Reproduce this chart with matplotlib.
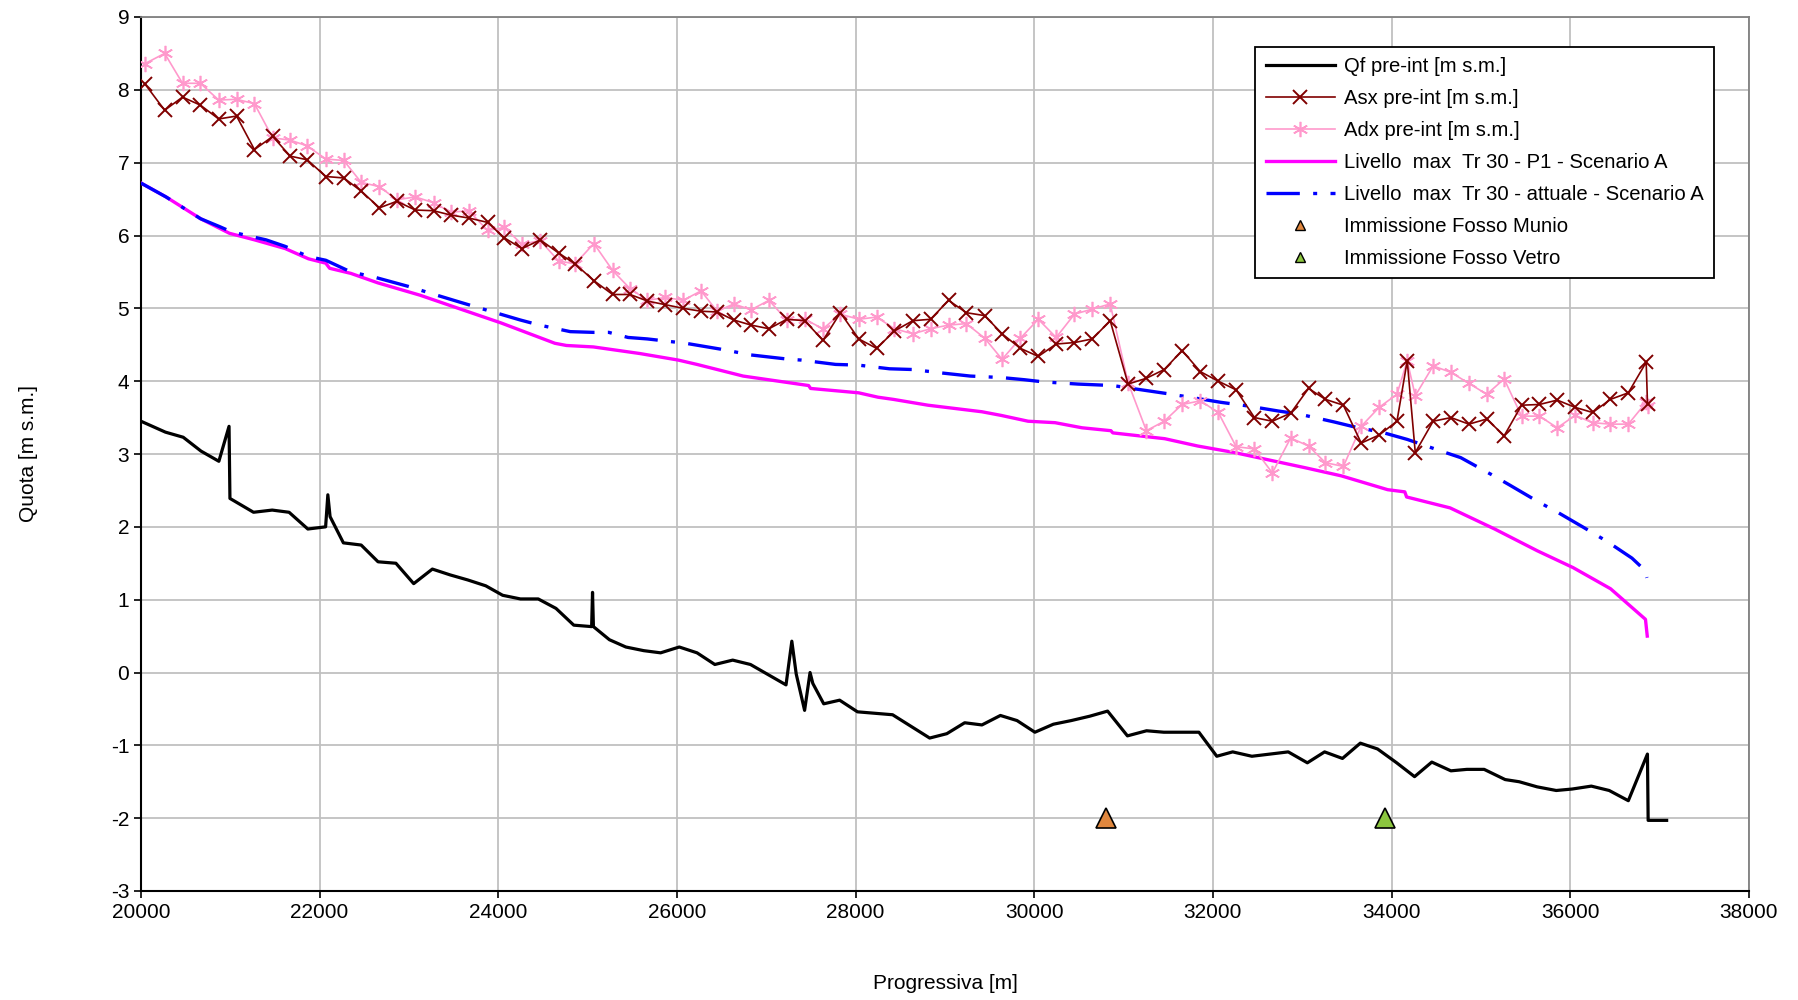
#!/usr/bin/env python3
# -*- coding: utf-8 -*-

"""
Profilo longitudinale: quote fondo, argini e livelli max Tr 30
"""

import matplotlib as mpl
mpl.use('Agg')
import matplotlib.pyplot as plt
from matplotlib.lines import Line2D

font_size = 15
font_name = 'Liberation Sans'
mpl.rc('font', family=font_name)
mpl.rc('axes', unicode_minus=False)

# Qf pre-int (fondo alveo)
qf_x = [20000, 20274, 20473, 20672, 20872, 20986, 20996, 21260, 21469, 21658,
        21868, 22067, 22092, 22117, 22266, 22465, 22654, 22854, 23053, 23262,
        23461, 23660, 23860, 24049, 24248, 24447, 24646, 24845, 25045, 25055,
        25065, 25244, 25428, 25628, 25817, 26026, 26225, 26424, 26624, 26823,
        27022, 27221, 27286, 27335, 27429, 27490, 27521, 27643, 27821, 28021,
        28414, 28829, 29021, 29221, 29414, 29621, 29807, 30007, 30214, 30414,
        30621, 30821, 31043, 31257, 31450, 31843, 32043, 32221, 32436, 32843,
        33057, 33250, 33450, 33650, 33843, 34057, 34257, 34450, 34664, 34843,
        35036, 35271, 35429, 35629, 35843, 36021, 36236, 36436, 36650, 36864,
        36872, 37079]
qf_y = [3.45, 3.30, 3.23, 3.04, 2.90, 3.38, 2.39, 2.20, 2.23, 2.20,
        1.97, 2.00, 2.44, 2.14, 1.78, 1.75, 1.52, 1.50, 1.22, 1.42,
        1.34, 1.27, 1.19, 1.06, 1.01, 1.01, 0.88, 0.65, 0.63, 1.10,
        0.63, 0.45, 0.35, 0.30, 0.27, 0.35, 0.27, 0.11, 0.17, 0.11,
        -0.03, -0.17, 0.43, -0.02, -0.52, 0.00, -0.15, -0.43, -0.38, -0.54,
        -0.58, -0.90, -0.84, -0.69, -0.72, -0.59, -0.66, -0.82, -0.71, -0.66,
        -0.60, -0.53, -0.87, -0.80, -0.82, -0.82, -1.15, -1.09, -1.15, -1.09,
        -1.24, -1.09, -1.18, -0.97, -1.05, -1.24, -1.43, -1.23, -1.35, -1.33,
        -1.33, -1.47, -1.50, -1.57, -1.62, -1.60, -1.56, -1.62, -1.76, -1.12,
        -2.03, -2.03]

# sezioni argini
sez_x = [20045, 20265, 20465, 20665, 20870, 21070, 21270, 21475, 21670, 21860,
         22070, 22270, 22465, 22670, 22865, 23070, 23275, 23470, 23670, 23880,
         24065, 24265, 24470, 24675, 24860, 25070, 25280, 25475, 25670, 25870,
         26070, 26270, 26450, 26635, 26830, 27030, 27230, 27430, 27635, 27830,
         28035, 28235, 28435, 28640, 28840, 29040, 29240, 29445, 29640, 29845,
         30045, 30245, 30450, 30650, 30850, 31050, 31255, 31455, 31655, 31860,
         32060, 32260, 32465, 32665, 32870, 33070, 33260, 33460, 33660, 33860,
         34060, 34175, 34265, 34465, 34665, 34865, 35065, 35260, 35455, 35655,
         35855, 36055, 36250, 36450, 36650, 36850, 36865]
asx_y = [8.08, 7.72, 7.90, 7.79, 7.60, 7.64, 7.18, 7.36, 7.09, 7.04,
         6.81, 6.79, 6.61, 6.38, 6.47, 6.35, 6.34, 6.28, 6.24, 6.18,
         5.97, 5.82, 5.94, 5.76, 5.61, 5.38, 5.19, 5.19, 5.10, 5.05,
         5.00, 4.96, 4.95, 4.84, 4.77, 4.72, 4.85, 4.83, 4.56, 4.94,
         4.58, 4.45, 4.69, 4.83, 4.85, 5.11, 4.94, 4.90, 4.65, 4.45,
         4.34, 4.51, 4.53, 4.58, 4.83, 3.96, 4.04, 4.16, 4.42, 4.13,
         4.00, 3.88, 3.50, 3.45, 3.56, 3.90, 3.75, 3.67, 3.15, 3.26,
         3.45, 4.28, 3.02, 3.45, 3.50, 3.41, 3.48, 3.25, 3.67, 3.68,
         3.74, 3.64, 3.57, 3.75, 3.84, 4.26, 3.68]
adx_y = [8.36, 8.50, 8.09, 8.09, 7.86, 7.87, 7.81, 7.34, 7.31, 7.23,
         7.05, 7.03, 6.73, 6.67, 6.49, 6.53, 6.45, 6.32, 6.34, 6.07,
         6.11, 5.88, 5.93, 5.65, 5.61, 5.89, 5.52, 5.27, 5.11, 5.15,
         5.11, 5.24, 4.96, 5.06, 4.98, 5.11, 4.84, 4.85, 4.72, 4.92,
         4.85, 4.88, 4.72, 4.65, 4.72, 4.77, 4.79, 4.59, 4.30, 4.59,
         4.85, 4.60, 4.92, 4.99, 5.06, 3.98, 3.32, 3.45, 3.68, 3.73,
         3.57, 3.10, 3.07, 2.74, 3.22, 3.11, 2.88, 2.83, 3.38, 3.64,
         3.82, 4.28, 3.80, 4.21, 4.12, 3.97, 3.82, 4.03, 3.52, 3.52,
         3.36, 3.53, 3.43, 3.41, 3.41, 3.71, 3.66]

# Livello max Tr 30 - P1 - Scenario A
p1_x = [20000, 20280, 20668, 20991, 21272, 21616, 21875, 22069, 22112, 22349,
        22651, 23125, 23600, 24030, 24332, 24634, 24763, 25065, 25237, 25582,
        26013, 26224, 26741, 27474, 27496, 28034, 28250, 28422, 28810, 29414,
        29629, 29931, 30233, 30534, 30858, 30879, 31461, 31828, 32240, 33038,
        33437, 33956, 34148, 34168, 34655, 35154, 35633, 36032, 36451, 36842,
        36862]
p1_y = [6.72, 6.53, 6.23, 6.03, 5.94, 5.82, 5.68, 5.62, 5.55, 5.48,
        5.35, 5.18, 4.98, 4.80, 4.66, 4.52, 4.49, 4.47, 4.44, 4.38,
        4.29, 4.23, 4.07, 3.94, 3.90, 3.84, 3.78, 3.75, 3.67, 3.58,
        3.53, 3.45, 3.43, 3.36, 3.32, 3.29, 3.21, 3.11, 3.02, 2.81,
        2.70, 2.51, 2.48, 2.41, 2.26, 1.97, 1.67, 1.44, 1.15, 0.73,
        0.50]

# Livello max Tr 30 - attuale - Scenario A
att_x = [20000, 20280, 20668, 20884, 21013, 21185, 21401, 21616, 21875, 22069,
         22349, 22608, 22996, 23233, 23556, 23858, 24246, 24461, 24806, 25065,
         25237, 25453, 25668, 26099, 26487, 26828, 27259, 27388, 27776, 28034,
         28379, 28638, 28983, 29284, 29629, 29888, 30103, 30491, 30879, 31095,
         31483, 31741, 32086, 32388, 32733, 32958, 33357, 33557, 33916, 34176,
         34555, 34774, 35114, 35313, 35633, 35872, 36152, 36411, 36691, 36830,
         36858]
att_y = [6.72, 6.53, 6.23, 6.12, 6.05, 6.00, 5.94, 5.85, 5.71, 5.66,
         5.50, 5.43, 5.30, 5.21, 5.09, 4.98, 4.84, 4.77, 4.68, 4.67,
         4.67, 4.60, 4.58, 4.52, 4.44, 4.36, 4.30, 4.29, 4.23, 4.22,
         4.17, 4.16, 4.11, 4.07, 4.05, 4.02, 3.99, 3.96, 3.94, 3.90,
         3.83, 3.78, 3.71, 3.66, 3.59, 3.55, 3.44, 3.38, 3.29, 3.20,
         3.04, 2.95, 2.72, 2.58, 2.35, 2.19, 1.99, 1.80, 1.57, 1.41,
         1.30]

# immissioni
munio_x, munio_y = [30800], [-2.0]
vetro_x, vetro_y = [33930], [-2.0]

labels = ['Qf pre-int [m s.m.]', 'Asx pre-int [m s.m.]',
          'Adx pre-int [m s.m.]',
          'Livello  max  Tr 30 - P1 - Scenario A',
          'Livello  max  Tr 30 - attuale - Scenario A',
          'Immissione Fosso Munio', 'Immissione Fosso Vetro']

fig = plt.figure(figsize=(17.98, 10.0), dpi=100)
ax = fig.add_axes([0.0784, 0.109, 0.8943, 0.874])

asterisk = (6, 2, 0)
c_munio = '#E0873E'
c_vetro = '#8CC63F'

ax.plot(qf_x, qf_y, color='black', lw=2.3, zorder=3)
ax.plot(sez_x, asx_y, color='#800000', lw=1.2, marker='x', ms=10,
        mew=1.4, zorder=4)
ax.plot(sez_x, adx_y, color='#FF99CC', lw=1.2, marker=asterisk, ms=11,
        mew=1.2, zorder=3.5)
ax.plot(p1_x, p1_y, color='#FF00FF', lw=2.4, zorder=3)
ax.plot(att_x, att_y, color='#0000FF', lw=2.4, dashes=(10, 4, 1.2, 4),
        zorder=3.2)
ax.plot(munio_x, munio_y, ls='none', marker='^', ms=15, mfc=c_munio,
        mec='black', mew=1.2, zorder=5)
ax.plot(vetro_x, vetro_y, ls='none', marker='^', ms=15, mfc=c_vetro,
        mec='black', mew=1.2, zorder=5)

ax.set_xlim(20000, 38000)
ax.set_ylim(-3, 9)
ax.set_xticks(range(20000, 38001, 2000))
ax.set_yticks(range(-3, 10))
ax.tick_params(labelsize=font_size, length=5, width=1.2, direction='out')
ax.grid(color='#C0C0C0', lw=1.3)
ax.set_axisbelow(True)

for side in ('top', 'right'):
    ax.spines[side].set_color('#808080')
    ax.spines[side].set_linewidth(1.3)
for side in ('left', 'bottom'):
    ax.spines[side].set_color('black')
    ax.spines[side].set_linewidth(1.5)

ax.set_xlabel('Progressiva [m]', fontsize=font_size)
ax.set_ylabel('Quota [m s.m.]', fontsize=font_size)
ax.xaxis.set_label_coords(0.5, -0.095)
ax.yaxis.set_label_coords(-0.064, 0.5)

# legend handles, triangles smaller than in the plot
handles = [
    Line2D([], [], color='black', lw=2.3),
    Line2D([], [], color='#800000', lw=1.2, marker='x', ms=10, mew=1.4),
    Line2D([], [], color='#FF99CC', lw=1.2, marker=asterisk, ms=11, mew=1.2),
    Line2D([], [], color='#FF00FF', lw=2.4),
    Line2D([], [], color='#0000FF', lw=2.4, dashes=(10, 4, 1.2, 4)),
    Line2D([], [], ls='none', marker='^', ms=7, mfc=c_munio, mec='black',
           mew=1.0),
    Line2D([], [], ls='none', marker='^', ms=7, mfc=c_vetro, mec='black',
           mew=1.0),
]
leg = ax.legend(handles, labels, loc='upper right',
                bbox_to_anchor=(0.978, 0.966), fontsize=14.6,
                fancybox=False, framealpha=1, edgecolor='black',
                handlelength=3.4, labelspacing=0.64, borderpad=0.5,
                handletextpad=0.45, borderaxespad=0)
leg.get_frame().set_linewidth(1.3)

fig.savefig('out.png', dpi=100)
